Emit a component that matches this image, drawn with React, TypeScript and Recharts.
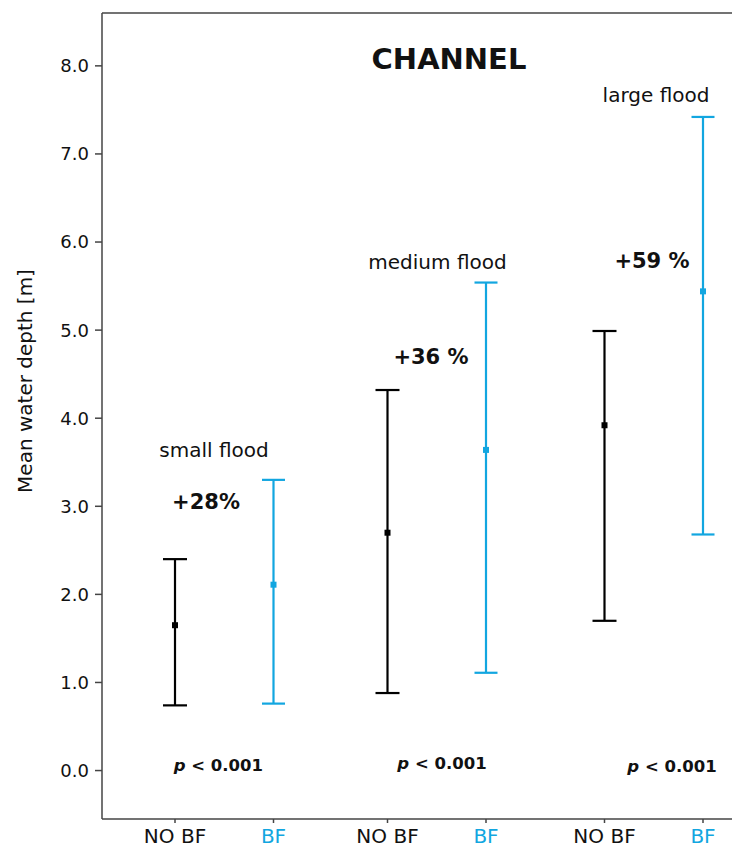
import React from 'react';
import {
  ComposedChart,
  Scatter,
  XAxis,
  YAxis,
  ErrorBar,
  ReferenceLine,
  ReferenceDot,
} from 'recharts';

// ---- data ----
const groups = ['small flood', 'medium flood', 'large flood'];
const conditions = ['NO BF', 'BF'];
const noBfMean = [1.65, 2.7, 3.92];
const noBfLow = [0.74, 0.88, 1.7];
const noBfHigh = [2.4, 4.32, 4.99];
const bfMean = [2.11, 3.64, 5.44];
const bfLow = [0.76, 1.11, 2.68];
const bfHigh = [3.3, 5.54, 7.42];
const changeLabels = ['+28%', '+36 %', '+59 %'];
const pLabels = ['< 0.001', '< 0.001', '< 0.001'];
const yTicks = [0, 1, 2, 3, 4, 5, 6, 7, 8];
const title = 'CHANNEL';
const yLabel = 'Mean water depth [m]';

// ---- layout ----
const FONT = 'DejaVu Sans';
const BLUE = '#12a6e0';
const AXIS = '#444';
const groupX = [0.73, 2.855, 5.025];
const bfOffset = 0.985;
const xDomain = [0, 6.3];
const yDomain = [-0.55, 8.6];

const noBfData = groups.map((g, i) => ({
  x: groupX[i],
  y: noBfMean[i],
  err: [noBfMean[i] - noBfLow[i], noBfHigh[i] - noBfMean[i]],
}));
const bfData = groups.map((g, i) => ({
  x: groupX[i] + bfOffset,
  y: bfMean[i],
  err: [bfMean[i] - bfLow[i], bfHigh[i] - bfMean[i]],
}));
const xTicks: number[] = [];
groups.forEach((g, i) => {
  xTicks.push(groupX[i]);
  xTicks.push(groupX[i] + bfOffset);
});

// annotation anchors in data coordinates
const groupLabelPos = [
  { x: 1.12, y: 3.56 },
  { x: 3.355, y: 5.69 },
  { x: 5.54, y: 7.59 },
];
const changePos = [
  { x: 1.04, y: 2.97 },
  { x: 3.29, y: 4.62 },
  { x: 5.5, y: 5.71 },
];
const pPos = [
  { x: 1.163, y: 0.0 },
  { x: 3.4, y: 0.02 },
  { x: 5.7, y: -0.02 },
];
const titlePos = { x: 3.47, y: 7.96 };

const Square = (props: any) => {
  const { cx, cy, fill } = props;
  return <rect x={cx - 3} y={cy - 3} width={6} height={6} fill={fill} />;
};

const XTick = (props: any) => {
  const { x, y, index } = props;
  const isBf = index % 2 === 1;
  return (
    <text
      x={x}
      y={y}
      dy="0.71em"
      textAnchor="middle"
      fontFamily={FONT}
      fontSize={20}
      fill={isBf ? BLUE : '#111'}
    >
      {conditions[index % 2]}
    </text>
  );
};

const textShape =
  (content: React.ReactNode, size: number, weight: string | number) =>
  (props: any) =>
    (
      <text
        x={props.cx}
        y={props.cy}
        textAnchor="middle"
        fontFamily={FONT}
        fontSize={size}
        fontWeight={weight}
        fill="#111"
      >
        {content}
      </text>
    );

export default function App() {
  return (
    <div style={{ position: 'absolute', left: 0, top: 0, width: 732, height: 848, background: '#fff' }}>
      <ComposedChart
        width={732}
        height={848}
        margin={{ top: 13, right: 0, bottom: 0, left: 0 }}
      >
        <XAxis
          dataKey="x"
          type="number"
          domain={xDomain}
          ticks={xTicks}
          interval={0}
          height={29}
          tickSize={4}
          tickMargin={6}
          tick={<XTick />}
          axisLine={{ stroke: AXIS, strokeWidth: 1.5 }}
          tickLine={{ stroke: AXIS, strokeWidth: 1.5 }}
        />
        <YAxis
          type="number"
          domain={yDomain}
          ticks={yTicks}
          interval={0}
          width={102}
          tickSize={7}
          tickMargin={6}
          tickFormatter={(v: number) => v.toFixed(1)}
          tick={{ fontFamily: FONT, fontSize: 18, fill: '#111' }}
          axisLine={{ stroke: AXIS, strokeWidth: 1.5 }}
          tickLine={{ stroke: AXIS, strokeWidth: 1.5 }}
          label={{
            content: (p: any) => (
              <text
                transform={`translate(${p.viewBox.x + 31.5}, ${p.viewBox.y + 368}) rotate(-90)`}
                textAnchor="middle"
                fontFamily={FONT}
                fontSize={20}
                fill="#111"
              >
                {yLabel}
              </text>
            ),
          }}
        />
        <ReferenceLine y={yDomain[1]} stroke={AXIS} strokeWidth={1.5} />
        <Scatter
          data={noBfData}
          dataKey="y"
          fill="#000"
          shape={Square}
          isAnimationActive={false}
        >
          <ErrorBar
            dataKey="err"
            direction="y"
            width={12}
            stroke="#000"
            strokeWidth={2.2}
            isAnimationActive={false}
          />
        </Scatter>
        <Scatter
          data={bfData}
          dataKey="y"
          fill={BLUE}
          shape={Square}
          isAnimationActive={false}
        >
          <ErrorBar
            dataKey="err"
            direction="y"
            width={11.5}
            stroke={BLUE}
            strokeWidth={2.2}
            isAnimationActive={false}
          />
        </Scatter>
        <ReferenceDot
          x={titlePos.x}
          y={titlePos.y}
          r={0}
          shape={textShape(title, 29, 'bold')}
        />
        {groups.map((g, i) => (
          <ReferenceDot
            key={'g' + i}
            x={groupLabelPos[i].x}
            y={groupLabelPos[i].y}
            r={0}
            shape={textShape(g, 20, 'normal')}
          />
        ))}
        {changeLabels.map((c, i) => (
          <ReferenceDot
            key={'c' + i}
            x={changePos[i].x}
            y={changePos[i].y}
            r={0}
            shape={textShape(c, 21, 'bold')}
          />
        ))}
        {pLabels.map((c, i) => (
          <ReferenceDot
            key={'p' + i}
            x={pPos[i].x}
            y={pPos[i].y}
            r={0}
            shape={textShape(
              <>
                <tspan fontStyle="italic">p</tspan> {c}
              </>,
              16.5,
              'bold'
            )}
          />
        ))}
      </ComposedChart>
    </div>
  );
}
